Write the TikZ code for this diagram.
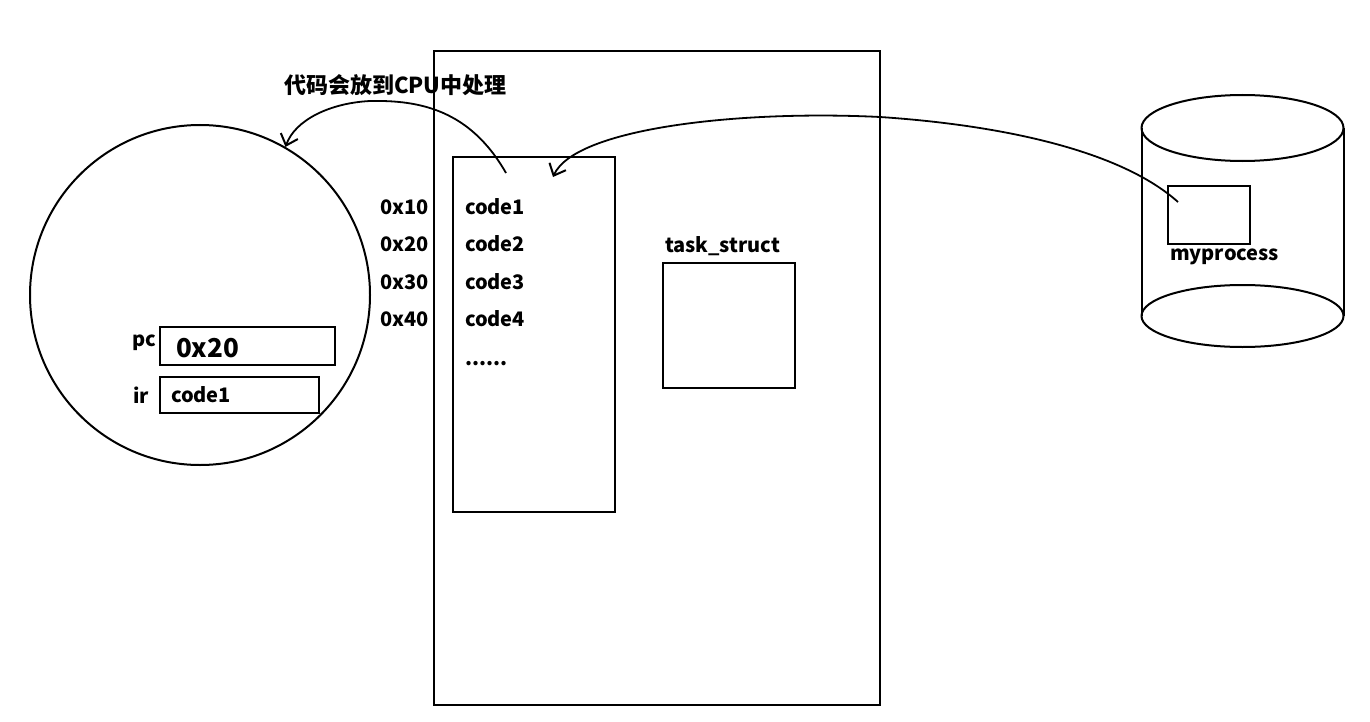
\documentclass[tikz,border=0pt]{standalone}
\usepackage{fontspec}
\setmainfont{Noto Sans CJK SC}
\usetikzlibrary{arrows.meta}
\begin{document}
\begin{tikzpicture}[x=0.5pt,y=-0.5pt,
  line width=1pt,
  lbl/.style={inner sep=0pt,anchor=base west,font=\fontsize{10}{12}\selectfont\bfseries},
  arr/.style={-{Straight Barb[length=5pt,width=9pt,line width=1pt]},line width=0.9pt}]
\useasboundingbox (0,0) rectangle (1370,722);
% memory
\draw (434,51) rectangle (880,705);
\draw (453,157) rectangle (615,512);
\draw (663,263) rectangle (795,388);
% cpu
\node[circle,draw,minimum size=170pt,inner sep=0pt] (cpu) at (200,295) {};
\draw (160,327) rectangle (335,365);
\draw (160,377) rectangle (319,413);
% disk cylinder
\draw (1242.5,128) ellipse [x radius=101, y radius=33];
\draw (1242.5,316) ellipse [x radius=101, y radius=31];
\draw (1141.5,128) -- (1141.5,316);
\draw (1343.5,128) -- (1343.5,316);
\draw (1168,186) rectangle (1250,244);
% texts
\node[lbl,font=\fontsize{11}{13}\selectfont\bfseries] (t0) at (283,94) {代码会放到CPU中处理};
\node[lbl] (a1) at (379,214) {0x10};
\node[lbl] (a2) at (379,251) {0x20};
\node[lbl] (a3) at (379,289) {0x30};
\node[lbl] (a4) at (379,326) {0x40};
\node[lbl] (c1) at (464,214) {code1};
\node[lbl] (c2) at (464,251) {code2};
\node[lbl] (c3) at (464,289) {code3};
\node[lbl] (c4) at (464,326) {code4};
\node[lbl] (c5) at (464,365) {......};
\node[lbl] (ts) at (664,252) {task\_struct};
\node[lbl] (mp) at (1169,260) {myprocess};
\node[lbl] (pc) at (131,346) {pc};
\node[lbl] (ir) at (132,403) {ir};
\node[lbl,font=\fontsize{13}{15}\selectfont\bfseries] (pcv) at (175,357) {0x20};
\node[lbl] (irv) at (170,402) {code1};
% connectors
\coordinate (s1) at (506,173);
\coordinate (s2) at (1178,202);
\coordinate (e2) at (553,177);
\draw[arr] (s1) .. controls (470,110) and (420,100) .. (370,101)
                .. controls (330,103) and (295,120) .. (cpu.60);
\draw[arr] (s2) .. controls (1120,150) and (1000,125) .. (880,117)
                .. controls (740,110) and (575,128) .. (e2);
\end{tikzpicture}
\end{document}
